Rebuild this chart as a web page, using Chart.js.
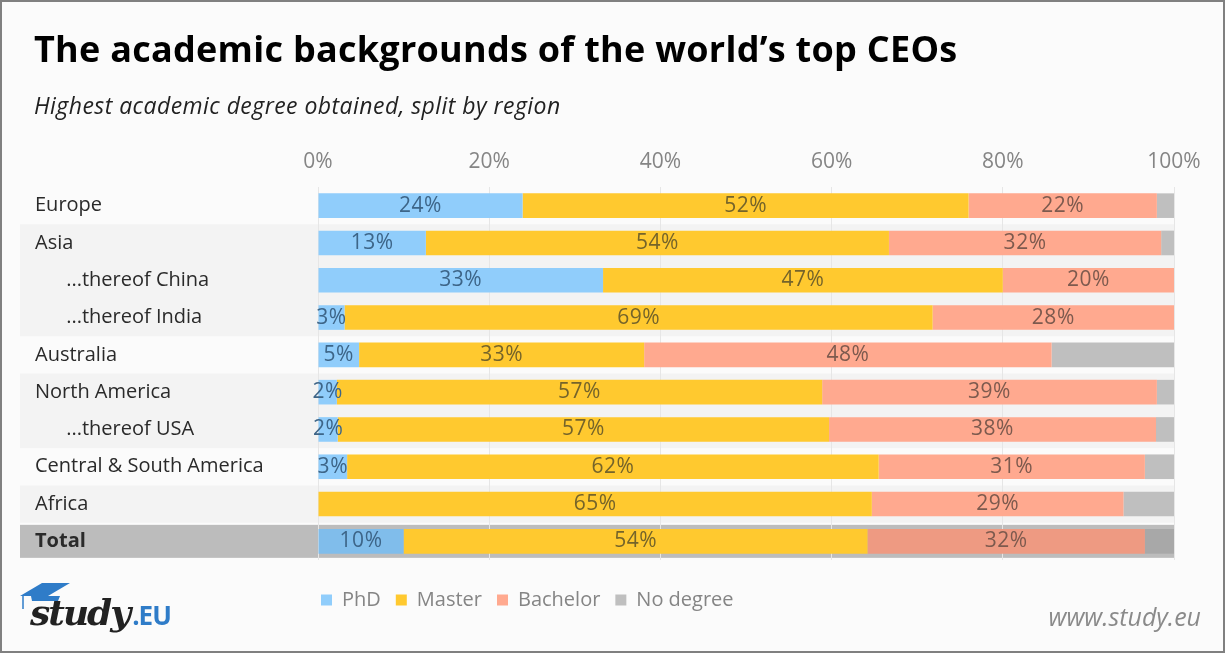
<!DOCTYPE html>
<html>
<head>
<meta charset="utf-8">
<title>The academic backgrounds of the world's top CEOs</title>
<script src="https://cdn.jsdelivr.net/npm/chart.js@4"></script>
<style>
    html, body { margin: 0; padding: 0; background: #fff; }
    #frame { position: relative; width: 1225px; height: 653px; box-sizing: border-box; border: 2px solid #808080; background: #fbfbfb; overflow: hidden; }
    #chart { position: absolute; left: -2px; top: -2px; }
    .txt { position: absolute; white-space: nowrap; font-family: "Open Sans", sans-serif; }
    #title { left: 32px; top: 22px; font-size: 36px; font-weight: 700; color: #000; letter-spacing: 0.27px; }
    #subtitle { left: 32px; top: 87px; font-size: 23px; font-style: italic; color: #222; letter-spacing: 0.45px; }
    #site { right: 22px; top: 597px; font-size: 25px; font-style: italic; color: #8a8a8a; }
    #logo { left: 28px; top: 589px; font-family: "DejaVu Serif", serif; font-size: 36px; font-weight: 700; font-style: italic; color: #222; letter-spacing: -2px; }
    #logo span { font-family: "Open Sans", sans-serif; font-style: normal; font-weight: 700; font-size: 26px; color: #2f7cc8; letter-spacing: -1px; margin-left: 3px; }
    #cap { position: absolute; left: 16px; top: 579px; }
</style>
</head>
<body>
<div id="frame">
    <canvas id="chart" width="1225" height="653"></canvas>
    <div class="txt" id="title">The academic backgrounds of the world’s top CEOs</div>
    <div class="txt" id="subtitle">Highest academic degree obtained, split by region</div>
    <svg id="cap" width="56" height="36" viewBox="0 0 56 36">
        <path d="M2 15 L24 2 L52 2 L30 15 Z" fill="#2f7cc8"/>
        <path d="M13 15 L42 15 L40 20 L14 20 Z" fill="#2f7cc8"/>
        <path d="M5 15 L5 28" stroke="#2f7cc8" stroke-width="1.5"/>
    </svg>
    <div class="txt" id="logo">study<span>.EU</span></div>
    <div class="txt" id="site">www.study.eu</div>
</div>
<script>
const regions = ['Europe', 'Asia', '\u00a0\u00a0\u00a0\u00a0\u00a0\u00a0...thereof China', '\u00a0\u00a0\u00a0\u00a0\u00a0\u00a0...thereof India', 'Australia', 'North America', '\u00a0\u00a0\u00a0\u00a0\u00a0\u00a0...thereof USA', 'Central & South America', 'Africa', 'Total'];
const phd      = [23.9, 12.6, 33.3, 3.1, 4.8, 2.2, 2.3, 3.4, 0, 10];
const master   = [52.1, 54.1, 46.7, 68.7, 33.3, 56.7, 57.4, 62.1, 64.7, 54.2];
const bachelor = [22, 31.8, 20, 28.2, 47.6, 39.1, 38.2, 31.1, 29.4, 32.4];
const noDegree = [2, 1.5, 0, 0, 14.3, 2, 2.1, 3.4, 5.9, 3.4];
const xTicks = [0, 20, 40, 60, 80, 100];
const shadedGroups = [[1, 3], [5, 6], [8, 8]];
const totalIndex = 9;

const fontFamily = '"Open Sans", sans-serif';

// colours for the normal rows and the darker "Total" row
function rowColors(normal, total) {
    return regions.map((r, i) => i === totalIndex ? total : normal);
}

// grey bands behind the row groups
const rowBands = {
    id: 'rowBands',
    beforeDraw(chart) {
        const { ctx, chartArea, scales: { y } } = chart;
        const step = y.getPixelForTick(1) - y.getPixelForTick(0);
        const left = 20;
        ctx.save();
        ctx.fillStyle = '#f3f3f3';
        shadedGroups.forEach(([a, b]) => {
            const top = y.getPixelForTick(a) - step / 2;
            const bottom = y.getPixelForTick(b) + step / 2;
            ctx.fillRect(left, top, chartArea.right - left, bottom - top);
        });
        ctx.fillStyle = '#bcbcbc';
        const yt = y.getPixelForTick(totalIndex);
        ctx.fillRect(left, yt - 16.5, chartArea.right - left, 33);
        ctx.restore();
    }
};

// percent labels in the middle of each segment
const segmentLabels = {
    id: 'segmentLabels',
    afterDatasetsDraw(chart) {
        const { ctx } = chart;
        ctx.save();
        ctx.font = '21px ' + fontFamily;
        ctx.letterSpacing = '0.5px';
        ctx.textAlign = 'center';
        ctx.textBaseline = 'middle';
        chart.data.datasets.forEach((ds, d) => {
            if (ds.label === 'No degree') return;
            chart.getDatasetMeta(d).data.forEach((bar, i) => {
                const value = ds.data[i];
                if (!value) return;
                ctx.fillStyle = ['#3d6588', '#75642a', '#7d5a4e'][d];
                ctx.fillText(Math.round(value) + '%', (bar.base + bar.x) / 2, bar.y);
            });
        });
        ctx.restore();
    }
};

// move the legend under the bars
const legendPlacement = {
    id: 'legendPlacement',
    afterLayout(chart) {
        const legend = chart.legend;
        legend.left = 306;
        legend.right = 1000;
        legend.top = 575;
        legend.bottom = 630;
    }
};

new Chart(document.getElementById('chart'), {
    type: 'bar',
    data: {
        labels: regions,
        datasets: [
            { label: 'PhD', data: phd, backgroundColor: rowColors('#90cdfb', '#80bdeb') },
            { label: 'Master', data: master, backgroundColor: rowColors('#ffc92f', '#ffc92f') },
            { label: 'Bachelor', data: bachelor, backgroundColor: rowColors('#ffa98f', '#ee9a82') },
            { label: 'No degree', data: noDegree, backgroundColor: rowColors('#bfbfbf', '#a8a8a8') }
        ]
    },
    options: {
        indexAxis: 'y',
        responsive: false,
        animation: false,
        devicePixelRatio: 1,
        categoryPercentage: 1,
        barPercentage: 0.66,
        layout: { padding: { left: 35, right: 51, top: 146, bottom: 48 } },
        scales: {
            x: {
                position: 'top',
                stacked: true,
                min: 0,
                max: 100,
                afterBuildTicks(axis) { axis.ticks = xTicks.map(value => ({ value })); },
                afterFit(axis) { axis.height = 41; },
                grid: { color: '#e6e6e6', drawTicks: false },
                border: { display: false },
                ticks: {
                    color: '#858585',
                    padding: 12,
                    font: { family: fontFamily, size: 21 },
                    callback: value => value + '%'
                }
            },
            y: {
                stacked: true,
                afterFit(axis) { axis.width = 283; },
                grid: { display: false },
                border: { display: false },
                ticks: {
                    crossAlign: 'far',
                    autoSkip: false,
                    padding: 0,
                    color: '#2a2a2a',
                    font: ctx => ({ family: fontFamily, size: 20, weight: ctx.index === totalIndex ? 'bold' : 'normal' })
                }
            }
        },
        plugins: {
            title: { display: false },
            tooltip: { enabled: false },
            legend: {
                position: 'bottom',
                align: 'start',
                labels: {
                    boxWidth: 11,
                    boxHeight: 11,
                    padding: 15,
                    color: '#858585',
                    font: { family: fontFamily, size: 20 },
                    generateLabels(chart) {
                        return chart.data.datasets.map((ds, i) => ({
                            text: ds.label,
                            fillStyle: ds.backgroundColor[0],
                            strokeStyle: 'transparent',
                            lineWidth: 0,
                            fontColor: '#858585',
                            datasetIndex: i
                        }));
                    }
                }
            }
        }
    },
    plugins: [rowBands, segmentLabels, legendPlacement]
});
</script>
</body>
</html>
